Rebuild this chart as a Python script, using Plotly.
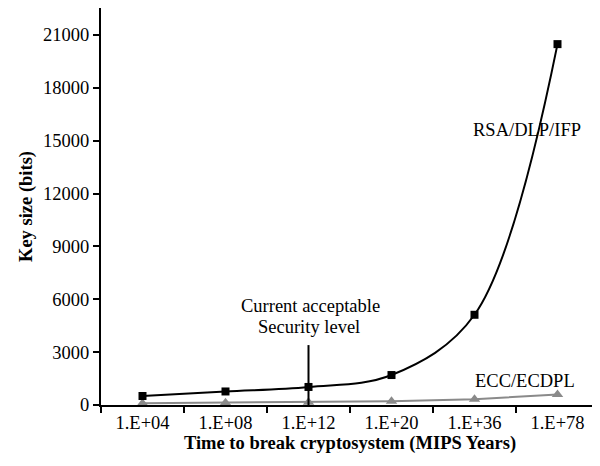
import plotly.graph_objects as go

categories = ["1.E+04", "1.E+08", "1.E+12", "1.E+20", "1.E+36", "1.E+78"]
rsa_bits = [512, 768, 1024, 1700, 5120, 20480]
ecc_bits = [106, 132, 160, 210, 320, 600]
y_ticks = [0, 3000, 6000, 9000, 12000, 15000, 18000, 21000]
y_tick_labels = [str(v) for v in y_ticks]

FONT = "Liberation Serif, Times New Roman, serif"
FS = 18.5

fig = go.Figure()
fig.add_trace(go.Scatter(
    x=categories, y=ecc_bits, mode="lines+markers",
    line=dict(color="#8a8a8a", width=2),
    marker=dict(symbol="triangle-up", size=10, color="#8a8a8a"),
    cliponaxis=False, showlegend=False))
fig.add_trace(go.Scatter(
    x=categories, y=rsa_bits, mode="lines+markers",
    line=dict(color="black", width=2, shape="spline", smoothing=1.0),
    marker=dict(symbol="square", size=8, color="black"),
    cliponaxis=False, showlegend=False))

fig.add_shape(type="line", xref="x", yref="y", x0=2, x1=2, y0=0, y1=3400,
              line=dict(color="black", width=2))

fig.add_annotation(x=2.02, y=5620, xref="x", yref="y", text="Current acceptable",
                   showarrow=False, font=dict(family=FONT, size=FS, color="black"))
fig.add_annotation(x=2.0, y=4430, xref="x", yref="y", text="Security level",
                   showarrow=False, font=dict(family=FONT, size=FS, color="black"))
fig.add_annotation(x=4.63, y=15610, xref="x", yref="y", text="RSA/DLP/IFP",
                   showarrow=False, font=dict(family=FONT, size=FS, color="black"))
fig.add_annotation(x=4.61, y=1360, xref="x", yref="y", text="ECC/ECDPL",
                   showarrow=False, font=dict(family=FONT, size=FS, color="black"))

fig.update_layout(
    width=592, height=458,
    margin=dict(l=93, r=1, t=0, b=61),
    paper_bgcolor="white", plot_bgcolor="white",
    font=dict(family=FONT, size=FS, color="black"),
    xaxis=dict(
        type="category", categoryorder="array", categoryarray=categories,
        range=[-0.5, 5.5], showgrid=False, zeroline=False,
        showline=True, linecolor="black", linewidth=2,
        ticks="outside", tickson="boundaries", ticklen=6, tickwidth=2, tickcolor="black",
        tickfont=dict(family=FONT, size=FS),
        title=dict(text="<b>Time to break cryptosystem (MIPS Years)</b>",
                   font=dict(family=FONT, size=FS), standoff=4),
    ),
    yaxis=dict(
        range=[0, 22530], tickvals=y_ticks, ticktext=y_tick_labels,
        showgrid=False, zeroline=False,
        showline=True, linecolor="black", linewidth=2,
        ticks="outside", ticklen=6, tickwidth=2, tickcolor="black",
        tickfont=dict(family=FONT, size=FS),
        title=dict(text="<b>Key size (bits)</b>", font=dict(family=FONT, size=FS), standoff=6),
    ),
)

fig.write_html("out.html")
